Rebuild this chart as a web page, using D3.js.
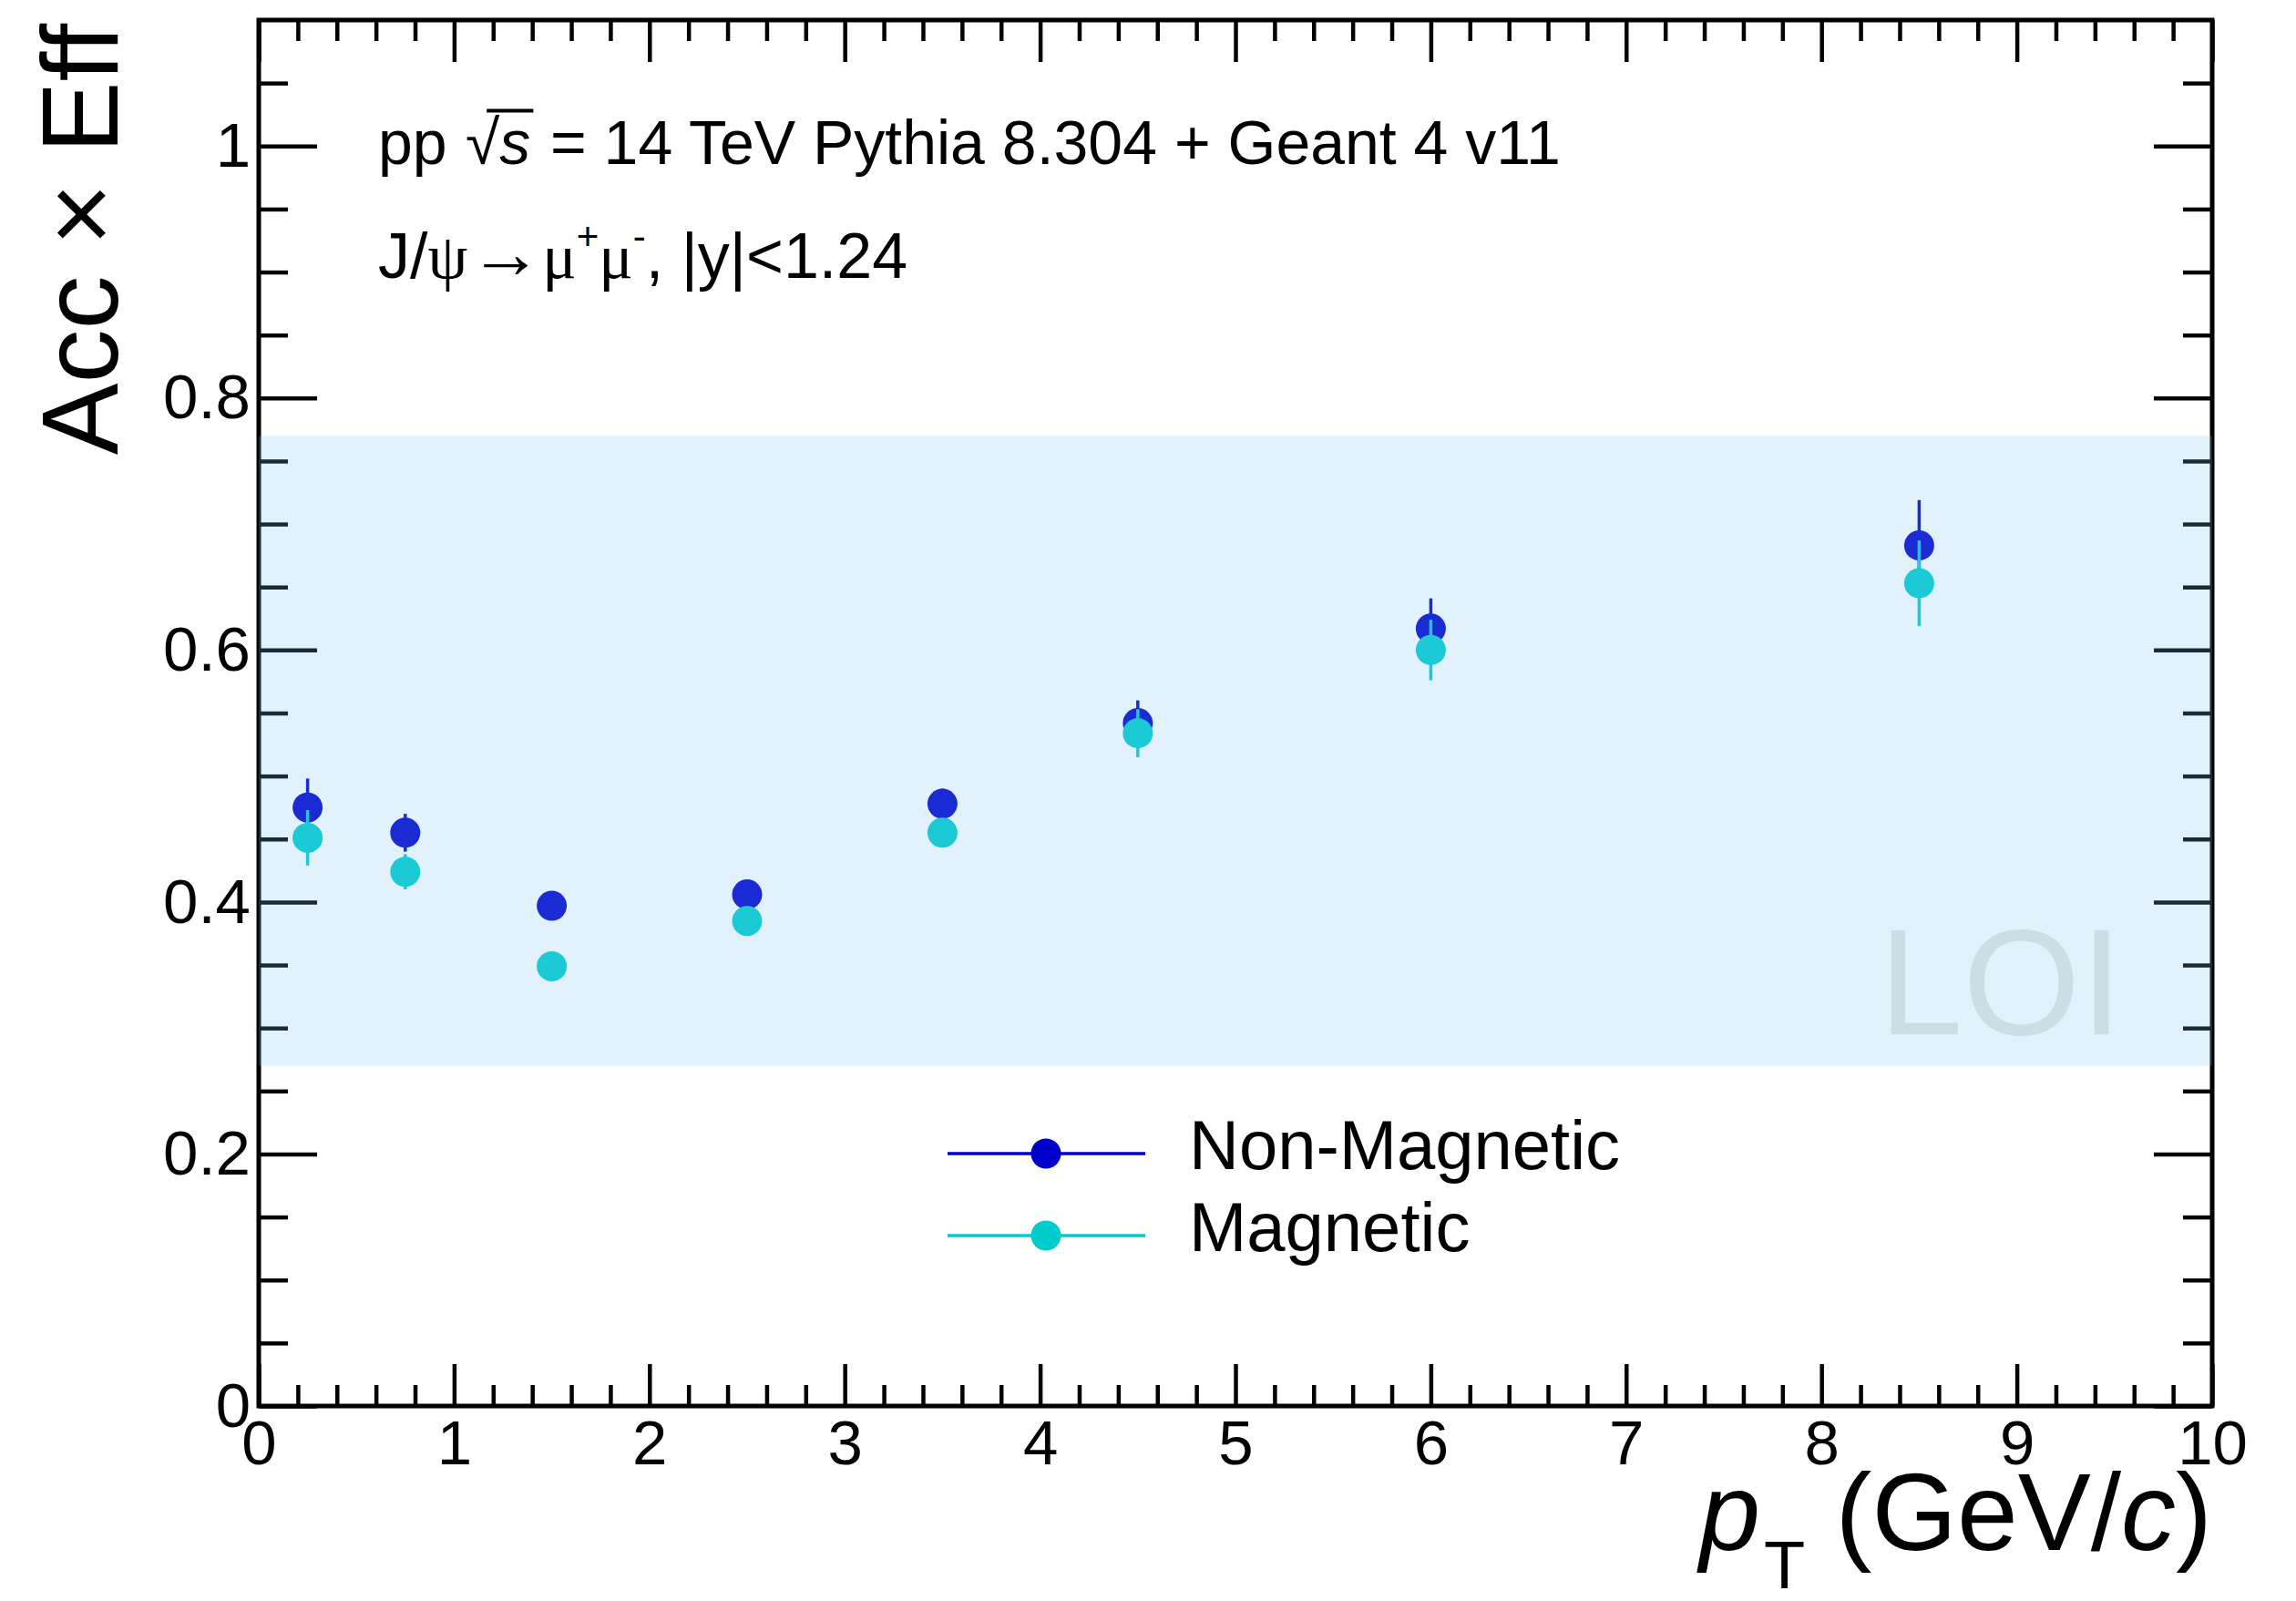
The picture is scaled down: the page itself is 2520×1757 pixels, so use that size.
<!DOCTYPE html>
<html>
<head>
<meta charset="utf-8">
<script src="https://cdn.jsdelivr.net/npm/d3@7"></script>
<style>
  html, body { margin: 0; padding: 0; background: #ffffff; }
  svg { display: block; }
  text { white-space: pre; }
</style>
</head>
<body>
<svg id="chart" width="2520" height="1757"></svg>
<script>
// ---- data: J/psi acceptance x efficiency vs pT ----
const ptCenters   = [0.25, 0.75, 1.5, 2.5, 3.5, 4.5, 6.0, 8.5];
const nonMagEff   = [0.475, 0.455, 0.397, 0.406, 0.478, 0.542, 0.617, 0.683];
const nonMagErr   = [0.023, 0.015, 0.008, 0.008, 0.012, 0.018, 0.024, 0.036];
const magEff      = [0.451, 0.424, 0.349, 0.385, 0.455, 0.534, 0.600, 0.653];
const magErr      = [0.022, 0.014, 0.008, 0.008, 0.011, 0.019, 0.024, 0.034];
const seriesNames = ["Non-Magnetic", "Magnetic"];
const loiBand     = [0.27, 0.77];
const xTickValues = [0, 1, 2, 3, 4, 5, 6, 7, 8, 9, 10];
const xTickLabels = ["0", "1", "2", "3", "4", "5", "6", "7", "8", "9", "10"];
const yTickValues = [0, 0.2, 0.4, 0.6, 0.8, 1.0];
const yTickLabels = ["0", "0.2", "0.4", "0.6", "0.8", "1"];

// ---- layout ----
const SANS  = "'Liberation Sans', Arial, Helvetica, sans-serif";
const SERIF = "'Liberation Serif', 'DejaVu Serif', serif";
const frame = { left: 284, right: 2428, top: 22, bottom: 1543 };
const colNM = "#0000cc", colM = "#00cccc";

const svg = d3.select("#chart");
const x = d3.scaleLinear().domain([0, 10]).range([frame.left, frame.right]);
const y = d3.scaleLinear().domain([0, 1.1]).range([frame.bottom, frame.top]);

const xMinor = d3.range(0, 10.0001, 0.2).filter(v => Math.abs(v - Math.round(v)) > 1e-6);
const yMinor = d3.range(0, 1.1001, 0.05).filter(v => Math.abs(v * 5 - Math.round(v * 5)) > 1e-6 && v < 1.09);

const tickLenX = 46, tickLenY = 64;

function styleAxis(g) {
  g.select(".domain").remove();
  g.selectAll(".tick line").attr("stroke", "#000").attr("stroke-width", 4.5);
  g.selectAll(".tick text").attr("fill", "#000").attr("font-family", SANS).attr("font-size", 69);
}

// bottom axis: major with labels, minor without
svg.append("g").attr("transform", `translate(0,${frame.bottom})`)
  .call(d3.axisBottom(x).tickValues(xTickValues).tickSize(-tickLenX).tickPadding(15)
        .tickFormat((d, i) => xTickLabels[i]))
  .call(styleAxis);
svg.append("g").attr("transform", `translate(0,${frame.bottom})`)
  .call(d3.axisBottom(x).tickValues(xMinor).tickSize(-tickLenX / 2).tickFormat(""))
  .call(styleAxis);
// top axis ticks
svg.append("g").attr("transform", `translate(0,${frame.top})`)
  .call(d3.axisTop(x).tickValues(xTickValues).tickSize(-tickLenX).tickFormat(""))
  .call(styleAxis);
svg.append("g").attr("transform", `translate(0,${frame.top})`)
  .call(d3.axisTop(x).tickValues(xMinor).tickSize(-tickLenX / 2).tickFormat(""))
  .call(styleAxis);
// left axis
svg.append("g").attr("transform", `translate(${frame.left},0)`)
  .call(d3.axisLeft(y).tickValues(yTickValues).tickSize(-tickLenY).tickPadding(9)
        .tickFormat((d, i) => yTickLabels[i]))
  .call(styleAxis);
svg.append("g").attr("transform", `translate(${frame.left},0)`)
  .call(d3.axisLeft(y).tickValues(yMinor).tickSize(-tickLenY / 2).tickFormat(""))
  .call(styleAxis);
// right axis ticks
svg.append("g").attr("transform", `translate(${frame.right},0)`)
  .call(d3.axisRight(y).tickValues(yTickValues).tickSize(-tickLenY).tickFormat(""))
  .call(styleAxis);
svg.append("g").attr("transform", `translate(${frame.right},0)`)
  .call(d3.axisRight(y).tickValues(yMinor).tickSize(-tickLenY / 2).tickFormat(""))
  .call(styleAxis);

// frame
svg.append("rect")
  .attr("x", frame.left).attr("y", frame.top)
  .attr("width", frame.right - frame.left).attr("height", frame.bottom - frame.top)
  .attr("fill", "none").attr("stroke", "#000").attr("stroke-width", 5);

// ---- data points with vertical error bars ----
const markerR = 16.5;
function drawSeries(vals, errs, color) {
  const g = svg.append("g");
  g.selectAll("line").data(ptCenters).join("line")
    .attr("x1", d => x(d)).attr("x2", d => x(d))
    .attr("y1", (d, i) => y(vals[i] - errs[i]))
    .attr("y2", (d, i) => y(vals[i] + errs[i]))
    .attr("stroke", color).attr("stroke-width", 3.5);
  g.selectAll("circle").data(ptCenters).join("circle")
    .attr("cx", d => x(d)).attr("cy", (d, i) => y(vals[i]))
    .attr("r", markerR).attr("fill", color);
}
drawSeries(nonMagEff, nonMagErr, colNM);
drawSeries(magEff, magErr, colM);

// ---- translucent LOI band over the plot ----
svg.append("rect")
  .attr("x", x(0)).attr("width", x(10) - x(0))
  .attr("y", y(loiBand[1])).attr("height", y(loiBand[0]) - y(loiBand[1]))
  .attr("fill", "rgb(123,195,241)").attr("fill-opacity", 0.22);

svg.append("text")
  .attr("x", 2062).attr("y", 1135)
  .attr("font-family", SANS).attr("font-size", 166)
  .attr("fill", "#cddde6").text("LOI");

// ---- rich text helper: lays segments left to right ----
function richText(x0, baseline, size, segs) {
  let cx = x0;
  const g = svg.append("g");
  const boxes = [];
  segs.forEach(s => {
    const fs = size * (s.scale || 1);
    const t = g.append("text")
      .attr("x", cx + (s.dx || 0) * size)
      .attr("y", baseline + (s.dy || 0) * size)
      .attr("font-family", s.font || SANS)
      .attr("font-size", fs)
      .attr("font-style", s.italic ? "italic" : "normal")
      .attr("fill", "#000")
      .text(s.t);
    const w = t.node().getComputedTextLength();
    boxes.push({ x: cx + (s.dx || 0) * size, w });
    cx += w + (s.dx || 0) * size + (s.gap || 0) * size;
  });
  return { g, boxes, end: cx };
}

// header line 1: pp sqrt(s) = 14 TeV ...
const H1 = 68, B1 = 180;
const l1 = richText(415, B1, H1, [
  { t: "pp", gap: 0.3 },
  { t: "\u221A", gap: 0.0 },
  { t: "s", italic: true, gap: 0.04 },
  { t: " = 14 TeV Pythia 8.304 + Geant 4 v11" }
]);
// overbar of the radical
{
  const r = l1.boxes[1], s = l1.boxes[2];
  l1.g.append("line")
    .attr("x1", r.x + r.w * 0.62).attr("x2", s.x + s.w + 3)
    .attr("y1", B1 - H1 * 0.86).attr("y2", B1 - H1 * 0.86)
    .attr("stroke", "#000").attr("stroke-width", 4);
}

// header line 2: J/psi -> mu+ mu-, |y|<1.24
richText(415, 305, 70, [
  { t: "J/" },
  { t: "\u03C8", font: SERIF, gap: 0.02 },
  { t: "\u2192", font: SERIF, scale: 1.15 },
  { t: "\u03BC", font: SERIF },
  { t: "+", scale: 0.6, dy: -0.45 },
  { t: "\u03BC", font: SERIF },
  { t: "-", scale: 0.6, dy: -0.45 },
  { t: ", |y|<1.24" }
]);

// ---- axis titles ----
svg.append("text")
  .attr("transform", "translate(129,26) rotate(-90)")
  .attr("text-anchor", "end")
  .attr("font-family", SANS).attr("font-size", 118)
  .attr("fill", "#000")
  .text("Acc \u00D7 Eff");

{
  const xt = svg.append("text")
    .attr("x", frame.right).attr("y", 1701)
    .attr("text-anchor", "end")
    .attr("font-family", SANS).attr("font-size", 120).attr("fill", "#000");
  xt.append("tspan").attr("font-style", "italic").text("p");
  xt.append("tspan").attr("font-size", 74).attr("dx", 4).attr("dy", 42).text("T");
  xt.append("tspan").attr("dy", -42).text(" (GeV/");
  xt.append("tspan").attr("font-style", "italic").text("c");
  xt.append("tspan").text(")");
}

// ---- legend ----
const legendRows = [
  { name: seriesNames[0], color: colNM, yc: 1266, base: 1283 },
  { name: seriesNames[1], color: colM,  yc: 1356, base: 1373 }
];
const lg = svg.append("g");
legendRows.forEach(r => {
  lg.append("line").attr("x1", 1040).attr("x2", 1257)
    .attr("y1", r.yc).attr("y2", r.yc)
    .attr("stroke", r.color).attr("stroke-width", 3.5);
  lg.append("circle").attr("cx", 1148).attr("cy", r.yc).attr("r", markerR).attr("fill", r.color);
  lg.append("text").attr("x", 1305).attr("y", r.base)
    .attr("font-family", SANS).attr("font-size", 76).attr("fill", "#000")
    .text(r.name);
});
</script>
</body>
</html>
